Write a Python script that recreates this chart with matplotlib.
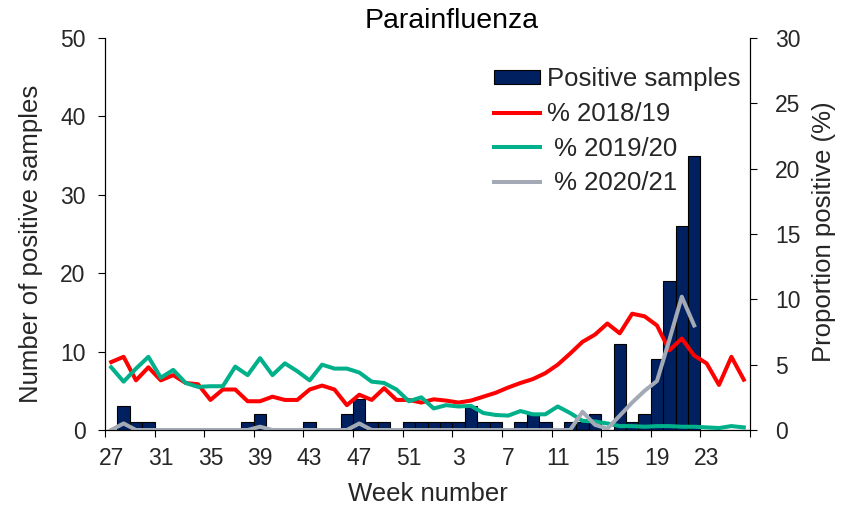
import numpy as np
import matplotlib.pyplot as plt

plt.rcParams['font.family'] = ['Liberation Sans', 'DejaVu Sans']

# week numbers of the season, 27..52 then 1..26
weeks = list(range(27, 53)) + list(range(1, 27))

positive_samples = [0, 3, 1, 1, 0, 0, 0, 0, 0, 0, 0, 1, 2, 0, 0, 0, 1, 0, 0, 2, 4, 1, 1, 0, 1, 1,
                    1, 1, 1, 3, 1, 1, 0, 1, 2, 1, 0, 1, 1, 2, 0, 11, 1, 2, 9, 19, 26, 35, 0, 0, 0, 0]

pct_2018_19 = [5.2, 5.6, 3.8, 4.8, 3.8, 4.2, 3.6, 3.5, 2.3, 3.1, 3.1, 2.2, 2.2, 2.55, 2.3, 2.3,
               3.1, 3.4, 3.1, 1.9, 2.7, 2.3, 3.2, 2.3, 2.3, 2.1,
               2.35, 2.25, 2.1, 2.25, 2.55, 2.85, 3.25, 3.6, 3.9, 4.35, 5.0, 5.85, 6.75, 7.3,
               8.15, 7.4, 8.9, 8.7, 8.0, 6.1, 7.0, 5.7, 5.1, 3.45, 5.6, 3.85]

pct_2019_20 = [4.8, 3.7, 4.7, 5.6, 4.0, 4.6, 3.6, 3.3, 3.35, 3.35, 4.85, 4.2, 5.5, 4.2, 5.1, 4.5,
               3.8, 5.0, 4.7, 4.7, 4.4, 3.7, 3.6, 3.1, 2.2, 2.5,
               1.65, 1.9, 1.8, 1.85, 1.3, 1.15, 1.1, 1.45, 1.2, 1.2, 1.8, 1.3, 0.7, 0.65,
               0.5, 0.3, 0.3, 0.25, 0.3, 0.3, 0.25, 0.25, 0.2, 0.15, 0.3, 0.2]

# 2020/21 season only reported up to week 22
pct_2020_21 = [0, 0.5, 0, 0, 0, 0, 0, 0, 0, 0, 0, 0, 0.25, 0, 0, 0, 0, 0, 0, 0, 0.5, 0, 0, 0, 0, 0,
               0, 0, 0, 0, 0, 0, 0, 0, 0, 0, 0, 0, 1.4, 0.4, 0.1, 1.1, 2.1, 3.0, 3.75, 6.9, 10.2, 8.0]

x = np.arange(len(weeks))

fig = plt.figure(figsize=(8.5, 5.11), dpi=100)
ax = fig.add_axes([105/850, 1-430/511, 645/850, 392/511])
ax2 = ax.twinx()

txt = '#262626'
bars = ax.bar(x, positive_samples, width=1.0, color='#002060', edgecolor='black', linewidth=0.8,
              label='Positive samples')
l1, = ax2.plot(x, pct_2018_19, color='#FF0000', lw=2.9, label='% 2018/19')
l2, = ax2.plot(x, pct_2019_20, color='#00B08A', lw=2.9, label=' % 2019/20')
l3, = ax2.plot(np.arange(len(pct_2020_21)), pct_2020_21, color='#A3AAB5', lw=2.9, label=' % 2020/21')

ax.set_xlim(-0.5, len(weeks)-0.5)
ax.set_ylim(0, 50)
ax2.set_ylim(0, 30)
ax.set_yticks(range(0, 51, 10))
ax2.set_yticks(range(0, 31, 5))

# tick marks between categories, labels every 4th week
ax.set_xticks(np.arange(-0.5, len(weeks), 4))
ax.set_xticklabels([])
ax.set_xticks(x[::4], minor=True)
ax.set_xticklabels([str(w) for w in weeks[::4]], minor=True)
ax.tick_params(axis='x', which='major', length=5, width=0.8, direction='out')
ax.tick_params(axis='x', which='minor', length=0, pad=12, labelsize=16.5, labelcolor=txt)
ax.tick_params(axis='y', length=5, width=0.8, direction='out', pad=9, labelsize=16.5, labelcolor=txt)
ax2.tick_params(axis='y', length=5, width=0.8, direction='out', pad=13, labelsize=16.5, labelcolor=txt)

for a in (ax, ax2):
    a.spines['top'].set_visible(False)
    for s in ('left', 'right', 'bottom'):
        a.spines[s].set_linewidth(0.8)

ax.set_xlabel('Week number', fontsize=18.5, color=txt, labelpad=9)
fig.text(31/850, 1-244/511, 'Number of positive samples', rotation=90, ha='center', va='center',
         fontsize=18.5, color=txt)
fig.text(824/850, 1-232/511, 'Proportion positive (%)', rotation=90, ha='center', va='center',
         fontsize=18.5, color=txt)
fig.text(452/850, 1-21/511, 'Parainfluenza', ha='center', va='center', fontsize=20.5, color='black')

ax2.legend(handles=[bars, l1, l2, l3], loc='upper left', bbox_to_anchor=(494/850, 1-67/511),
           bbox_transform=fig.transFigure, frameon=False, fontsize=18.5, handlelength=1.8,
           handleheight=0.5, handletextpad=0.25, labelspacing=0.42, borderpad=0, borderaxespad=0,
           labelcolor=txt)

fig.savefig('out.png', dpi=100)
